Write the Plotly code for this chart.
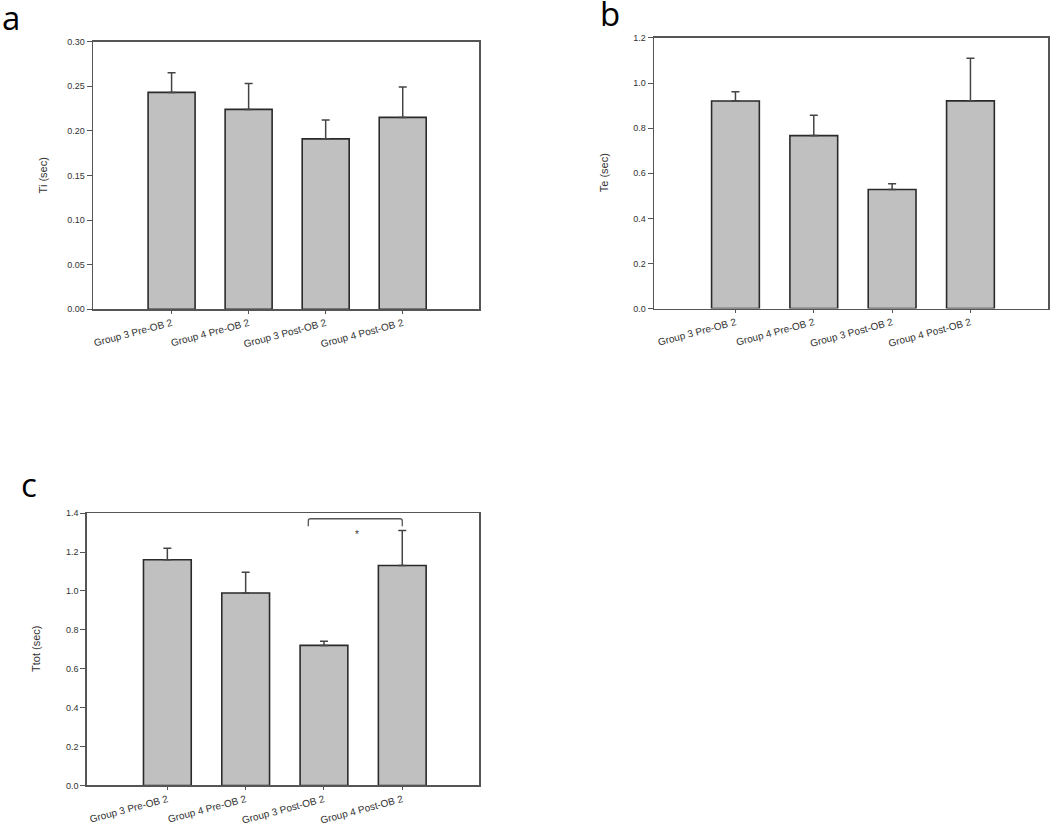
import plotly.graph_objects as go

categories = ["Group 3 Pre-OB 2", "Group 4 Pre-OB 2", "Group 3 Post-OB 2", "Group 4 Post-OB 2"]

ti_mean = [0.243, 0.224, 0.191, 0.215]
ti_err = [0.022, 0.029, 0.021, 0.034]

te_mean = [0.920, 0.767, 0.528, 0.921]
te_err = [0.041, 0.090, 0.025, 0.189]

ttot_mean = [1.160, 0.989, 0.720, 1.131]
ttot_err = [0.059, 0.107, 0.022, 0.179]

W, H = 1050, 831


def px(x):
    return min(1.0, max(0.0, x / W))


def py(y):
    return min(1.0, max(0.0, 1 - y / H))


panels = [
    dict(name="a", mean=ti_mean, err=ti_err, title="Ti (sec)", range=[0, 0.30], dtick=0.05, fmt=".2f",
         xdom=[px(93), px(479)], ydom=[py(308), py(37)], xr=[-1.02, 3.99]),
    dict(name="b", mean=te_mean, err=te_err, title="Te (sec)", range=[0, 1.2], dtick=0.2, fmt=".1f",
         xdom=[px(654), px(1048)], ydom=[py(307.3), py(33.3)], xr=[-1.04, 3.99]),
    dict(name="c", mean=ttot_mean, err=ttot_err, title="Ttot (sec)", range=[0, 1.4], dtick=0.2, fmt=".1f",
         xdom=[px(86.7), px(479)], ydom=[py(790), py(514.3)], xr=[-1.03, 3.98]),
]

fig = go.Figure()
layout = dict(
    width=W, height=H, margin=dict(l=0, r=0, t=0, b=0),
    paper_bgcolor="white", plot_bgcolor="white", showlegend=False,
    font=dict(family="Liberation Sans, Arial, sans-serif", color="#333"),
)
annotations = []
shapes = []
for i, p in enumerate(panels):
    idx = "" if i == 0 else str(i + 1)
    xa, ya = "x" + idx, "y" + idx
    fig.add_trace(go.Bar(
        x=categories, y=p["mean"], xaxis=xa, yaxis=ya, width=0.61,
        marker=dict(color="#c0c0c0", line=dict(color="#2a2a2a", width=1.6)),
        error_y=dict(type="data", array=p["err"], arrayminus=[0] * 4, symmetric=False,
                     color="#444", thickness=1.5, width=4),
    ))
    layout["xaxis" + idx] = dict(
        domain=p["xdom"], anchor=ya, type="category", categoryorder="array", categoryarray=categories,
        range=p["xr"], showline=True, linecolor="#555", linewidth=1.5, mirror=True,
        ticks="outside", ticklen=3, tickcolor="#555", tickangle=-15,
        tickfont=dict(size=10, color="#333"), showgrid=False, zeroline=False,
    )
    layout["yaxis" + idx] = dict(
        domain=p["ydom"], anchor=xa, range=p["range"], dtick=p["dtick"], tick0=0, tickformat=p["fmt"],
        showline=True, linecolor="#555", linewidth=1.5, mirror=True,
        ticks="outside", ticklen=5, tickcolor="#555",
        tickfont=dict(size=9, color="#333"), showgrid=False, zeroline=False,
    )
    ycenter = (p["ydom"][0] + p["ydom"][1]) / 2
    annotations.append(dict(
        text=p["title"], textangle=-90, xref="paper", yref="paper",
        x=p["xdom"][0] - 50 / W, y=ycenter, showarrow=False,
        font=dict(size=11, color="#333"), xanchor="center", yanchor="middle",
    ))

letter_pos = {"a": (11, 13), "b": (610, 9), "c": (29, 485)}
for name, (lx, ly) in letter_pos.items():
    annotations.append(dict(
        text=name, xref="paper", yref="paper", x=px(lx), y=py(ly),
        showarrow=False, font=dict(size=33, color="black", family="Open Sans, sans-serif"),
        xanchor="center", yanchor="middle",
    ))

shapes.append(dict(
    type="path", xref="x3", yref="y3",
    path="M 1.80,1.332 L 1.80,1.360 Q 1.80,1.371 1.83,1.371 L 2.97,1.371 Q 3.0,1.371 3.0,1.360 L 3.0,1.332",
    line=dict(color="#555", width=1.3),
))
annotations.append(dict(
    text="*", xref="x3", yref="y3", x=2.42, y=1.29, showarrow=False,
    font=dict(size=10, color="#333"), xanchor="center", yanchor="middle",
))

layout["annotations"] = annotations
layout["shapes"] = shapes
fig.update_layout(**layout)
fig.write_html(
    "out.html",
    config={"displayModeBar": False, "staticPlot": True},
    post_script="document.body.style.margin='0';document.body.style.overflow='hidden';",
)
